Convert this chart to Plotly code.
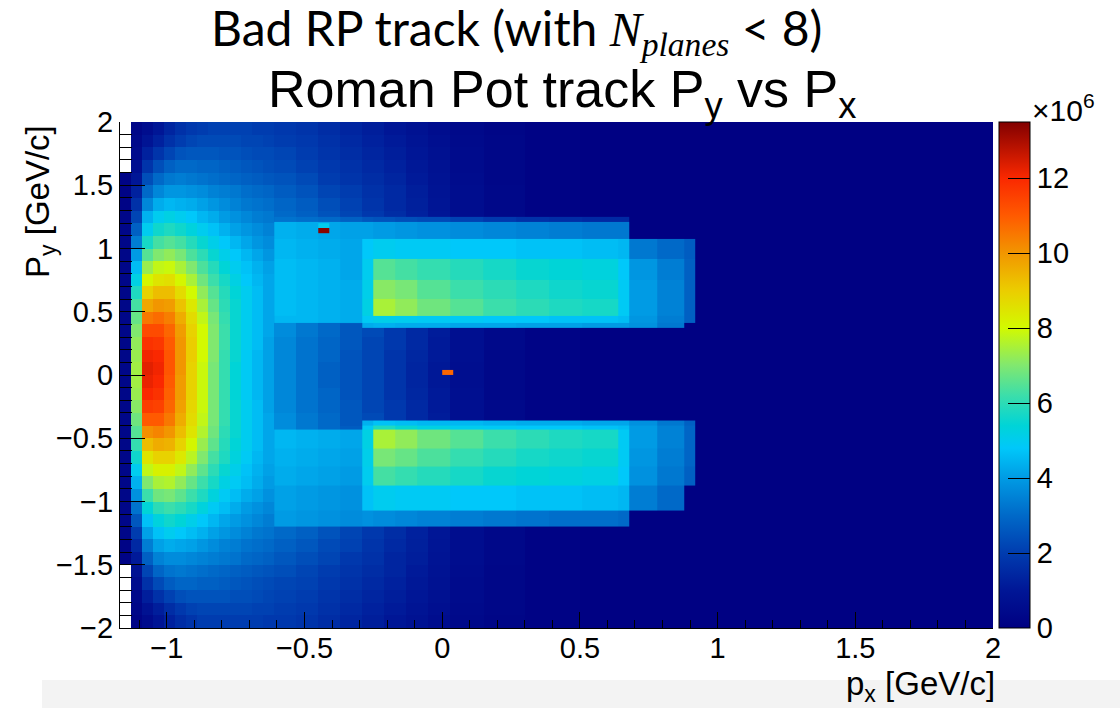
import plotly.graph_objects as go

# ---------------- data (values in units of 10^6 entries) ----------------
BG_X_EDGES = [-1.17, -1.13, -1.09, -1.05, -1.01, -0.97, -0.93, -0.89, -0.85, -0.81,
              -0.77, -0.73, -0.69, -0.65, -0.61, -0.53, -0.45, -0.37, -0.29, -0.21,
              -0.13, -0.05, 0.03, 0.15, 0.30, 0.50, 2.00]
BG_Y_EDGES = [-2.0, -1.9, -1.8, -1.7, -1.6, -1.5, -1.4, -1.3, -1.2, -1.1, -1.0,
              -0.9, -0.8, -0.7, -0.6, -0.5, -0.4, -0.3, -0.2, -0.1, 0.0,
              0.1, 0.2, 0.3, 0.4, 0.5, 0.6, 0.7, 0.8, 0.9, 1.0,
              1.1, 1.2, 1.3, 1.4, 1.5, 1.6, 1.7, 1.8, 1.9, 2.0]
N = None
# rows listed from top (y=1.95) to bottom (y=-1.95)
BG_Z_TOP_DOWN = [
    [N, 0.3, 0.6, 1.0, 1.4, 1.7, 1.9, 2.0, 2.1, 2.1, 2.1, 2.1, 2.0, 2.0, 1.9, 1.8, 1.6, 1.4, 1.2, 1.0, 0.8, 0.6, 0.4, 0.25, 0.15, 0.05],
    [N, 0.4, 0.9, 1.3, 1.7, 2.0, 2.2, 2.3, 2.3, 2.3, 2.3, 2.2, 2.2, 2.1, 2.0, 1.9, 1.7, 1.5, 1.3, 1.1, 0.9, 0.7, 0.45, 0.3, 0.15, 0.05],
    [N, 0.5, 1.3, 1.8, 2.2, 2.5, 2.6, 2.6, 2.6, 2.5, 2.5, 2.4, 2.3, 2.3, 2.2, 2.0, 1.8, 1.6, 1.4, 1.2, 1.0, 0.75, 0.5, 0.3, 0.15, 0.05],
    [N, 0.7, 1.8, 2.4, 2.8, 3.0, 3.0, 2.9, 2.9, 2.8, 2.7, 2.6, 2.5, 2.4, 2.3, 2.1, 1.9, 1.7, 1.5, 1.3, 1.05, 0.8, 0.5, 0.3, 0.15, 0.05],
    [0.2, 1.0, 2.4, 3.0, 3.3, 3.4, 3.3, 3.2, 3.1, 3.0, 2.9, 2.8, 2.7, 2.6, 2.5, 2.3, 2.0, 1.8, 1.6, 1.4, 1.1, 0.85, 0.55, 0.3, 0.15, 0.05],
    [0.2, 1.3, 3.0, 3.6, 3.9, 3.9, 3.8, 3.7, 3.5, 3.4, 3.3, 3.1, 3.0, 2.9, 2.7, 2.5, 2.2, 2.0, 1.7, 1.5, 1.2, 0.9, 0.6, 0.35, 0.15, 0.05],
    [0.2, 1.7, 3.6, 4.3, 4.5, 4.4, 4.3, 4.1, 3.9, 3.7, 3.5, 3.3, 3.2, 3.1, 2.9, 2.7, 2.4, 2.1, 1.8, 1.5, 1.25, 0.95, 0.6, 0.35, 0.15, 0.05],
    [0.3, 2.2, 4.4, 5.0, 5.2, 5.0, 4.8, 4.5, 4.3, 4.0, 3.8, 3.6, 3.4, 3.3, 3.0, 2.8, 2.5, 2.2, 1.9, 1.6, 1.3, 1.0, 0.6, 0.35, 0.15, 0.05],
    [0.3, 2.8, 5.0, 5.6, 5.8, 5.6, 5.3, 5.0, 4.7, 4.4, 4.1, 3.9, 3.7, 3.5, 3.2, 3.0, 2.7, 2.3, 2.0, 1.7, 1.4, 1.05, 0.7, 0.4, 0.2, 0.05],
    [0.3, 3.4, 5.7, 6.3, 6.5, 6.3, 5.9, 5.5, 5.1, 4.8, 4.5, 4.2, 3.9, 3.7, 3.4, 3.1, 2.8, 2.4, 2.1, 1.8, 1.45, 1.1, 0.7, 0.4, 0.2, 0.05],
    [0.3, 4.0, 6.5, 7.0, 7.2, 6.9, 6.4, 6.0, 5.5, 5.1, 4.8, 4.5, 4.2, 3.9, 3.5, 3.2, 2.9, 2.5, 2.2, 1.9, 1.5, 1.15, 0.75, 0.4, 0.2, 0.05],
    [0.3, 4.6, 7.3, 7.8, 7.9, 7.5, 7.0, 6.4, 5.9, 5.4, 5.0, 4.7, 4.4, 4.1, 3.7, 3.3, 3.0, 2.6, 2.3, 1.9, 1.55, 1.15, 0.75, 0.4, 0.2, 0.05],
    [0.3, 5.2, 8.1, 8.5, 8.6, 8.1, 7.5, 6.8, 6.2, 5.7, 5.2, 4.8, 4.5, 4.2, 3.8, 3.4, 3.1, 2.7, 2.3, 1.9, 1.6, 1.2, 0.75, 0.4, 0.2, 0.05],
    [0.3, 5.8, 8.9, 9.3, 9.3, 8.7, 8.0, 7.2, 6.5, 5.9, 5.4, 5.0, 4.6, 4.2, 3.8, 3.4, 3.1, 2.7, 2.4, 2.0, 1.6, 1.2, 0.75, 0.4, 0.2, 0.05],
    [0.3, 6.3, 9.7, 10.0, 9.9, 9.2, 8.4, 7.5, 6.7, 6.0, 5.5, 5.0, 4.6, 4.2, 3.8, 3.4, 3.1, 2.7, 2.4, 2.0, 1.6, 1.2, 0.75, 0.4, 0.2, 0.05],
    [0.3, 6.7, 10.5, 10.7, 10.4, 9.6, 8.7, 7.8, 6.9, 6.1, 5.5, 5.0, 4.6, 4.2, 3.7, 3.3, 3.0, 2.7, 2.3, 2.0, 1.6, 1.2, 0.75, 0.4, 0.2, 0.05],
    [0.3, 7.0, 11.3, 11.3, 10.8, 9.9, 8.9, 8.0, 7.0, 6.2, 5.5, 5.0, 4.6, 4.2, 3.7, 3.3, 3.0, 2.6, 2.3, 1.9, 1.5, 1.15, 0.7, 0.4, 0.2, 0.05],
    [0.3, 7.2, 11.8, 11.7, 11.0, 10.0, 9.0, 8.0, 7.0, 6.2, 5.5, 5.0, 4.6, 4.1, 3.6, 3.2, 2.9, 2.6, 2.2, 1.9, 1.5, 1.1, 0.7, 0.4, 0.2, 0.05],
    [0.3, 7.3, 12.1, 12.0, 11.1, 10.0, 9.0, 8.0, 7.0, 6.1, 5.5, 4.9, 4.5, 4.1, 3.6, 3.2, 2.9, 2.5, 2.2, 1.8, 1.45, 1.1, 0.7, 0.35, 0.2, 0.05],
    [0.3, 7.4, 12.3, 12.1, 11.1, 10.0, 8.9, 7.9, 6.9, 6.1, 5.4, 4.9, 4.5, 4.1, 3.6, 3.2, 2.8, 2.5, 2.2, 1.8, 1.4, 1.05, 0.65, 0.35, 0.2, 0.05],
    [0.3, 7.4, 12.2, 12.0, 11.0, 9.9, 8.9, 7.9, 6.9, 6.1, 5.4, 4.9, 4.5, 4.1, 3.6, 3.2, 2.8, 2.5, 2.2, 1.8, 1.4, 1.05, 0.65, 0.35, 0.2, 0.05],
    [0.3, 7.3, 12.0, 11.8, 10.9, 9.9, 8.9, 7.9, 6.9, 6.1, 5.4, 4.9, 4.5, 4.1, 3.6, 3.2, 2.9, 2.5, 2.2, 1.8, 1.45, 1.1, 0.7, 0.35, 0.2, 0.05],
    [0.3, 7.1, 11.6, 11.5, 10.8, 9.8, 8.8, 7.9, 6.9, 6.1, 5.5, 5.0, 4.6, 4.1, 3.6, 3.2, 2.9, 2.6, 2.2, 1.9, 1.5, 1.1, 0.7, 0.4, 0.2, 0.05],
    [0.3, 6.8, 11.0, 11.0, 10.5, 9.6, 8.7, 7.8, 6.9, 6.1, 5.5, 5.0, 4.6, 4.2, 3.7, 3.3, 3.0, 2.6, 2.3, 1.9, 1.5, 1.15, 0.7, 0.4, 0.2, 0.05],
    [0.3, 6.5, 10.1, 10.3, 10.0, 9.3, 8.5, 7.6, 6.8, 6.0, 5.5, 5.0, 4.6, 4.2, 3.7, 3.3, 3.0, 2.7, 2.3, 2.0, 1.6, 1.2, 0.75, 0.4, 0.2, 0.05],
    [0.3, 6.1, 9.3, 9.6, 9.5, 8.9, 8.1, 7.3, 6.6, 5.9, 5.4, 5.0, 4.6, 4.2, 3.8, 3.4, 3.1, 2.7, 2.4, 2.0, 1.6, 1.2, 0.75, 0.4, 0.2, 0.05],
    [0.3, 5.6, 8.5, 8.9, 8.9, 8.4, 7.7, 7.0, 6.3, 5.8, 5.3, 4.9, 4.5, 4.2, 3.8, 3.4, 3.1, 2.7, 2.4, 2.0, 1.6, 1.2, 0.75, 0.4, 0.2, 0.05],
    [0.3, 5.0, 7.8, 8.2, 8.2, 7.8, 7.2, 6.6, 6.0, 5.5, 5.1, 4.7, 4.4, 4.1, 3.7, 3.4, 3.1, 2.7, 2.3, 1.9, 1.6, 1.2, 0.75, 0.4, 0.2, 0.05],
    [0.3, 4.4, 7.0, 7.5, 7.6, 7.2, 6.7, 6.2, 5.7, 5.2, 4.9, 4.6, 4.3, 4.0, 3.6, 3.3, 3.0, 2.6, 2.3, 1.9, 1.55, 1.15, 0.75, 0.4, 0.2, 0.05],
    [0.3, 3.8, 6.2, 6.8, 6.9, 6.6, 6.2, 5.8, 5.3, 4.9, 4.6, 4.3, 4.1, 3.8, 3.5, 3.2, 2.9, 2.5, 2.2, 1.9, 1.5, 1.15, 0.75, 0.4, 0.2, 0.05],
    [0.3, 3.2, 5.4, 6.0, 6.2, 6.0, 5.7, 5.3, 4.9, 4.6, 4.3, 4.0, 3.8, 3.6, 3.3, 3.1, 2.8, 2.4, 2.1, 1.8, 1.45, 1.1, 0.7, 0.4, 0.2, 0.05],
    [0.3, 2.6, 4.7, 5.3, 5.6, 5.4, 5.1, 4.8, 4.5, 4.2, 4.0, 3.8, 3.6, 3.4, 3.1, 2.9, 2.6, 2.3, 2.0, 1.7, 1.4, 1.05, 0.7, 0.4, 0.2, 0.05],
    [0.3, 2.0, 4.1, 4.7, 5.0, 4.8, 4.6, 4.4, 4.1, 3.9, 3.7, 3.5, 3.3, 3.2, 3.0, 2.8, 2.5, 2.2, 1.9, 1.6, 1.3, 1.0, 0.6, 0.35, 0.15, 0.05],
    [0.2, 1.5, 3.4, 4.1, 4.3, 4.2, 4.1, 3.9, 3.7, 3.5, 3.4, 3.2, 3.1, 3.0, 2.8, 2.6, 2.3, 2.1, 1.8, 1.5, 1.25, 0.95, 0.6, 0.35, 0.15, 0.05],
    [0.2, 1.1, 2.8, 3.5, 3.7, 3.7, 3.6, 3.5, 3.4, 3.3, 3.2, 3.0, 2.9, 2.8, 2.6, 2.4, 2.2, 1.9, 1.7, 1.4, 1.2, 0.9, 0.6, 0.35, 0.15, 0.05],
    [N, 0.8, 2.2, 2.9, 3.2, 3.3, 3.2, 3.1, 3.0, 2.9, 2.8, 2.7, 2.6, 2.5, 2.4, 2.2, 2.0, 1.8, 1.6, 1.4, 1.1, 0.85, 0.55, 0.3, 0.15, 0.05],
    [N, 0.6, 1.7, 2.3, 2.7, 2.9, 2.9, 2.8, 2.8, 2.7, 2.6, 2.5, 2.4, 2.3, 2.2, 2.1, 1.9, 1.7, 1.5, 1.3, 1.05, 0.8, 0.5, 0.3, 0.15, 0.05],
    [N, 0.4, 1.2, 1.7, 2.1, 2.4, 2.5, 2.5, 2.5, 2.5, 2.4, 2.4, 2.3, 2.2, 2.1, 2.0, 1.8, 1.6, 1.4, 1.2, 1.0, 0.75, 0.5, 0.3, 0.15, 0.05],
    [N, 0.3, 0.8, 1.2, 1.6, 1.9, 2.1, 2.2, 2.2, 2.2, 2.2, 2.2, 2.1, 2.1, 2.0, 1.9, 1.7, 1.5, 1.3, 1.1, 0.9, 0.7, 0.45, 0.3, 0.15, 0.05],
    [N, 0.2, 0.5, 0.9, 1.3, 1.6, 1.8, 2.0, 2.0, 2.0, 2.0, 2.0, 2.0, 1.9, 1.9, 1.8, 1.6, 1.4, 1.2, 1.0, 0.8, 0.6, 0.4, 0.25, 0.15, 0.05],
]

# the two acceptance rectangles (upper and lower), drawn over the background
RECT_X_EDGES = [-0.61, -0.53, -0.45, -0.37, -0.29, -0.25, -0.17, -0.09, 0.03, 0.15,
                0.27, 0.39, 0.51, 0.64, 0.68, 0.78, 0.88, 0.92]
UPPER_Y_EDGES = [0.37, 0.41, 0.47, 0.60, 0.75, 0.92, 1.08, 1.21, 1.25]
UPPER_Z = [  # bottom row first
    [N, N, N, N, 4.3, 4.4, 4.3, 4.3, 4.2, 4.2, 4.1, 4.1, 4.0, 4.0, 3.8, 3.3, N],
    [4.5, 4.5, 4.4, 4.3, 4.9, 5.1, 5.0, 4.9, 4.9, 4.8, 4.8, 4.7, 4.7, 4.6, 3.9, 3.4, 2.8],
    [4.6, 4.5, 4.4, 4.3, 5.2, 7.5, 7.2, 6.8, 6.5, 6.2, 6.0, 5.8, 5.7, 4.9, 4.0, 3.5, 2.8],
    [4.6, 4.5, 4.4, 4.3, 5.1, 7.1, 6.9, 6.5, 6.2, 6.0, 5.8, 5.6, 5.5, 4.9, 4.0, 3.5, 2.8],
    [4.6, 4.5, 4.4, 4.2, 5.0, 6.5, 6.3, 6.1, 5.9, 5.7, 5.5, 5.4, 5.3, 4.8, 3.9, 3.4, 2.8],
    [4.5, 4.4, 4.3, 4.2, 4.8, 5.0, 4.9, 4.9, 4.8, 4.8, 4.7, 4.7, 4.6, 4.5, 3.3, 3.0, 2.7],
    [4.4, 4.3, 4.2, 4.1, 4.1, 4.0, 3.9, 3.8, 3.7, 3.6, 3.5, 3.4, 3.3, 3.3, N, N, N],
    [3.2, 3.1, 3.0, 2.8, 2.6, 2.5, 2.4, 2.3, 2.1, 1.9, 1.7, 1.6, 1.5, 1.5, N, N, N],
]
LOWER_Y_EDGES = [-1.20, -1.07, -0.87, -0.72, -0.58, -0.43, -0.40, -0.36]
LOWER_Z = [  # bottom row first
    [4.0, 3.9, 3.8, 3.7, 3.8, 3.7, 3.6, 3.5, 3.4, 3.3, 3.2, 3.1, 3.1, 3.0, N, N, N],
    [4.1, 4.0, 3.9, 3.8, 4.7, 5.0, 4.9, 4.9, 4.8, 4.8, 4.7, 4.7, 4.6, 4.5, 3.4, 3.0, N],
    [4.3, 4.2, 4.1, 4.0, 5.0, 6.3, 6.1, 5.9, 5.7, 5.5, 5.4, 5.3, 5.2, 4.8, 3.8, 3.3, 2.8],
    [4.4, 4.3, 4.2, 4.1, 5.1, 6.9, 6.7, 6.4, 6.1, 5.9, 5.7, 5.6, 5.5, 4.9, 3.9, 3.4, 2.9],
    [4.5, 4.4, 4.3, 4.2, 5.2, 7.5, 7.2, 6.8, 6.5, 6.2, 6.0, 5.8, 5.7, 4.9, 4.0, 3.5, 2.9],
    [N, N, N, N, 4.9, 5.8, 5.5, 5.2, 5.0, 4.9, 4.8, 4.8, 4.7, 4.6, 4.0, 3.5, 2.9],
    [N, N, N, N, 4.4, 4.7, 4.6, 4.5, 4.5, 4.4, 4.3, 4.3, 4.2, 4.2, 3.8, 3.3, 2.8],
]

# isolated hot bins
HOT1_X_EDGES = [-0.45, -0.41]
HOT1_Y_EDGES = [1.12, 1.16, 1.20]
HOT1_Z = [[13.4], [5.0]]
HOT2_X_EDGES = [0.00, 0.04]
HOT2_Y_EDGES = [0.00, 0.04]
HOT2_Z = [[10.8]]

X_TICKS = [-1, -0.5, 0, 0.5, 1, 1.5, 2]
X_TICK_TEXT = ["\u22121", "\u22120.5", "0", "0.5", "1", "1.5", "2"]
Y_TICKS = [-2, -1.5, -1, -0.5, 0, 0.5, 1, 1.5, 2]
Y_TICK_TEXT = ["\u22122", "\u22121.5", "\u22121", "\u22120.5", "0", "0.5", "1", "1.5", "2"]
CB_TICKS = [0, 2, 4, 6, 8, 10, 12]
CB_TICK_TEXT = ["0", "2", "4", "6", "8", "10", "12"]
Z_MAX = 13.5

COLORSCALE = [
    [0.000, "rgb(0,0,130)"],
    [0.074, "rgb(0,22,150)"],
    [0.148, "rgb(0,60,175)"],
    [0.222, "rgb(0,105,200)"],
    [0.296, "rgb(0,155,228)"],
    [0.356, "rgb(0,200,250)"],
    [0.400, "rgb(0,212,215)"],
    [0.460, "rgb(60,222,170)"],
    [0.520, "rgb(130,232,110)"],
    [0.593, "rgb(210,250,0)"],
    [0.667, "rgb(235,205,0)"],
    [0.741, "rgb(242,150,0)"],
    [0.815, "rgb(255,90,0)"],
    [0.889, "rgb(250,40,0)"],
    [1.000, "rgb(130,0,0)"],
]

# ---------------- figure ----------------
W, H = 1120, 708
L, R, T, B = 120, 127, 122, 80
PW, PH = W - L - R, H - T - B


def px_x(px):
    return (px - L) / PW


def px_y(py):
    return (H - B - py) / PH


fig = go.Figure()
fig.add_trace(go.Heatmap(x=BG_X_EDGES, y=BG_Y_EDGES, z=BG_Z_TOP_DOWN[::-1],
                         coloraxis="coloraxis", hoverinfo="skip"))
fig.add_trace(go.Heatmap(x=RECT_X_EDGES, y=UPPER_Y_EDGES, z=UPPER_Z,
                         coloraxis="coloraxis", hoverinfo="skip"))
fig.add_trace(go.Heatmap(x=RECT_X_EDGES, y=LOWER_Y_EDGES, z=LOWER_Z,
                         coloraxis="coloraxis", hoverinfo="skip"))
fig.add_trace(go.Heatmap(x=HOT1_X_EDGES, y=HOT1_Y_EDGES, z=HOT1_Z,
                         coloraxis="coloraxis", hoverinfo="skip"))
fig.add_trace(go.Heatmap(x=HOT2_X_EDGES, y=HOT2_Y_EDGES, z=HOT2_Z,
                         coloraxis="coloraxis", hoverinfo="skip"))

SANS = "Liberation Sans, Arial, Helvetica, sans-serif"
tickfont = dict(family=SANS, size=29, color="black")

fig.update_layout(
    width=W, height=H,
    margin=dict(l=L, r=R, t=T, b=B, pad=0),
    paper_bgcolor="white", plot_bgcolor="white",
    showlegend=False,
    coloraxis=dict(
        cmin=0, cmax=Z_MAX, colorscale=COLORSCALE,
        colorbar=dict(
            x=px_x(999), xanchor="left", xref="paper",
            y=0.5, yanchor="middle", len=1, lenmode="fraction",
            thickness=31, thicknessmode="pixels", xpad=0, ypad=0,
            outlinewidth=1, outlinecolor="black",
            tickmode="array", tickvals=CB_TICKS, ticktext=CB_TICK_TEXT,
            ticks="inside", ticklen=22, tickwidth=1, tickcolor="black",
            tickfont=tickfont,
        ),
    ),
    xaxis=dict(
        range=[-1.17, 2.0], showgrid=False, zeroline=False,
        showline=True, linecolor="black", linewidth=1,
        tickmode="array", tickvals=X_TICKS, ticktext=X_TICK_TEXT,
        ticks="inside", ticklen=16, tickwidth=1, tickcolor="black",
        ticklabelstandoff=-6,
        minor=dict(tickmode="linear", tick0=0, dtick=0.1, ticks="inside",
                   ticklen=8, tickwidth=1, tickcolor="black", showgrid=False),
        tickfont=tickfont,
    ),
    yaxis=dict(
        range=[-2.0, 2.0], showgrid=False, zeroline=False,
        showline=True, linecolor="black", linewidth=1,
        tickmode="array", tickvals=Y_TICKS, ticktext=Y_TICK_TEXT,
        ticks="inside", ticklen=25, tickwidth=1, tickcolor="black",
        minor=dict(tickmode="linear", tick0=0, dtick=0.1, ticks="inside",
                   ticklen=12, tickwidth=1, tickcolor="black", showgrid=False),
        tickfont=tickfont,
    ),
    shapes=[dict(type="rect", xref="paper", yref="paper",
                 x0=px_x(42), x1=px_x(1120), y0=px_y(708), y1=px_y(680),
                 fillcolor="#f3f3f3", line=dict(width=0), layer="below")],
)

annotations = [
    dict(text="Bad RP track (with <span style='font-family:Liberation Serif'><i>N</i><sub><i>planes</i></sub></span> &lt; 8)",
         x=px_x(516), y=px_y(31), font=dict(family="Lato, Open Sans, sans-serif", size=48, color="black")),
    dict(text="Roman Pot track P<sub>y</sub> vs P<sub>x</sub>",
         x=px_x(562), y=px_y(93), font=dict(family=SANS, size=52, color="black")),
    dict(text="P<sub>y</sub> [GeV/c]", textangle=-90,
         x=px_x(40), y=px_y(202), font=dict(family=SANS, size=33, color="black")),
    dict(text="p<sub>x</sub> [GeV/c]", xanchor="right",
         x=px_x(997), y=px_y(686), font=dict(family=SANS, size=33, color="black")),
    dict(text="\u00d710<sup>6</sup>",
         x=px_x(1063), y=px_y(108), font=dict(family=SANS, size=30, color="black")),
]
for a in annotations:
    a.setdefault("xanchor", "center")
    a.setdefault("yanchor", "middle")
    a.update(xref="paper", yref="paper", showarrow=False)
fig.update_layout(annotations=annotations)

fig.write_html("out.html")
